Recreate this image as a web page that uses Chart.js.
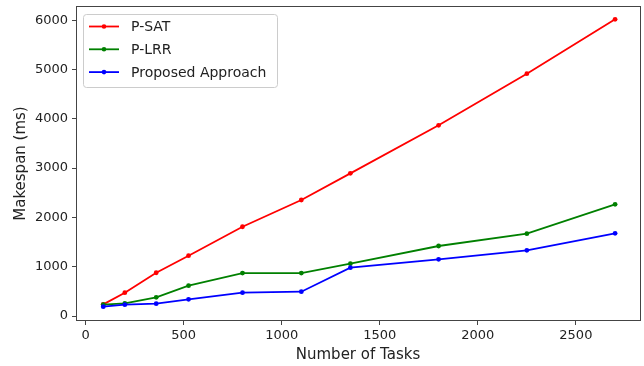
<!DOCTYPE html>
<html>
<head>
<meta charset="utf-8">
<script src="https://cdn.jsdelivr.net/npm/chart.js@4.4.1/dist/chart.umd.min.js"></script>
<style>
  html, body { margin: 0; padding: 0; background: #fff; }
  #wrap { width: 644px; height: 366px; }
</style>
</head>
<body>
<div id="wrap"><canvas id="chartMakespan" width="644" height="366"></canvas></div>
<script>
// ================== DATA ================ //
const TASKS = [90, 200, 360, 525, 800, 1100, 1350, 1800, 2250, 2700];
const P_SAT = [237, 473, 878, 1223, 1811, 2353, 2894, 3868, 4915, 6018];
const P_LRR = [230, 257, 379, 615, 872, 872, 1061, 1420, 1670, 2266];
const PROPOSED = [189, 230, 250, 339, 473, 493, 980, 1150, 1333, 1677];

const X_TICKS = [0, 500, 1000, 1500, 2000, 2500];
const Y_TICKS = [0, 1000, 2000, 3000, 4000, 5000, 6000];

const SERIES = [
  { label: "P-SAT", values: P_SAT, color: "#ff0000" },
  { label: "P-LRR", values: P_LRR, color: "#008000" },
  { label: "Proposed Approach", values: PROPOSED, color: "#0000ff" },
];

const FONT = "'DejaVu Sans', sans-serif";
const AXIS_COLOR = "#444";

// kotak plot + legend ala matplotlib
const framePlugin = {
  id: "frame",
  afterDraw(chart) {
    const { ctx, chartArea: a } = chart;
    ctx.save();
    ctx.strokeStyle = AXIS_COLOR;
    ctx.lineWidth = 1;
    ctx.strokeRect(a.left + 0.5, a.top + 0.5, a.right - a.left, a.bottom - a.top - 1);

    // legend
    const bx = a.left + 7, by = a.top + 8, bw = 194, bh = 73;
    ctx.fillStyle = "rgba(255,255,255,0.85)";
    ctx.strokeStyle = "#cccccc";
    ctx.beginPath();
    ctx.roundRect(bx + 0.5, by + 0.5, bw, bh, 3);
    ctx.fill();
    ctx.stroke();

    ctx.font = "14px " + FONT;
    ctx.textBaseline = "middle";
    chart.data.datasets.forEach((ds, i) => {
      const y = by + 12.5 + i * 22.8;
      ctx.strokeStyle = ds.borderColor;
      ctx.lineWidth = 1.8;
      ctx.beginPath();
      ctx.moveTo(bx + 6, y);
      ctx.lineTo(bx + 36, y);
      ctx.stroke();
      ctx.fillStyle = ds.borderColor;
      ctx.beginPath();
      ctx.arc(bx + 21, y, 2.3, 0, Math.PI * 2);
      ctx.fill();
      ctx.fillStyle = "#222";
      ctx.fillText(ds.label, bx + 48, y + 1);
    });
    ctx.restore();
  },
};

function renderChartMakespan() {
  const canvas = document.getElementById("chartMakespan");
  if (!canvas) return;

  const datasets = SERIES.map((s, i) => ({
    label: s.label,
    data: TASKS.map((t, j) => ({ x: t, y: s.values[j] })),
    borderColor: s.color,
    backgroundColor: s.color,
    borderWidth: 1.8,
    pointRadius: 2.4,
    pointBorderWidth: 0,
    tension: 0,
    fill: false,
    order: SERIES.length - i,
  }));

  new Chart(canvas, {
    type: "line",
    data: { datasets },
    plugins: [framePlugin],
    options: {
      responsive: false,
      animation: false,
      events: [],
      layout: { padding: { left: 0, right: 0, top: 6, bottom: 0 } },
      plugins: {
        legend: { display: false },
        tooltip: { enabled: false },
      },
      scales: {
        x: {
          type: "linear",
          min: -49,
          max: 2827,
          afterBuildTicks: (axis) => {
            axis.ticks = X_TICKS.map((v) => ({ value: v }));
          },
          afterFit: (axis) => {
            axis.height = 45;
            axis.paddingLeft = 0;
            axis.paddingRight = 0;
          },
          grid: {
            drawOnChartArea: false,
            drawTicks: true,
            tickLength: 4,
            color: AXIS_COLOR,
          },
          border: { display: false },
          ticks: {
            padding: 3,
            color: "#222",
            font: { family: FONT, size: 13 },
            maxRotation: 0,
            callback: (v) => String(v),
          },
          title: {
            display: true,
            text: "Number of Tasks",
            color: "#222",
            font: { family: FONT, size: 15 },
            padding: { top: 0, bottom: 2 },
          },
        },
        y: {
          type: "linear",
          min: -101,
          max: 6288,
          afterBuildTicks: (axis) => {
            axis.ticks = Y_TICKS.map((v) => ({ value: v }));
          },
          afterFit: (axis) => {
            axis.width = 76;
            axis.paddingTop = 0;
            axis.paddingBottom = 0;
          },
          grid: {
            drawOnChartArea: false,
            drawTicks: true,
            tickLength: 4,
            color: AXIS_COLOR,
          },
          border: { display: false },
          ticks: {
            padding: 4,
            color: "#222",
            font: { family: FONT, size: 13 },
            callback: (v) => String(v),
          },
          title: {
            display: true,
            text: "Makespan (ms)",
            color: "#222",
            font: { family: FONT, size: 15 },
            padding: { top: 12, bottom: 0 },
          },
        },
      },
    },
  });
}

renderChartMakespan();
</script>
</body>
</html>
